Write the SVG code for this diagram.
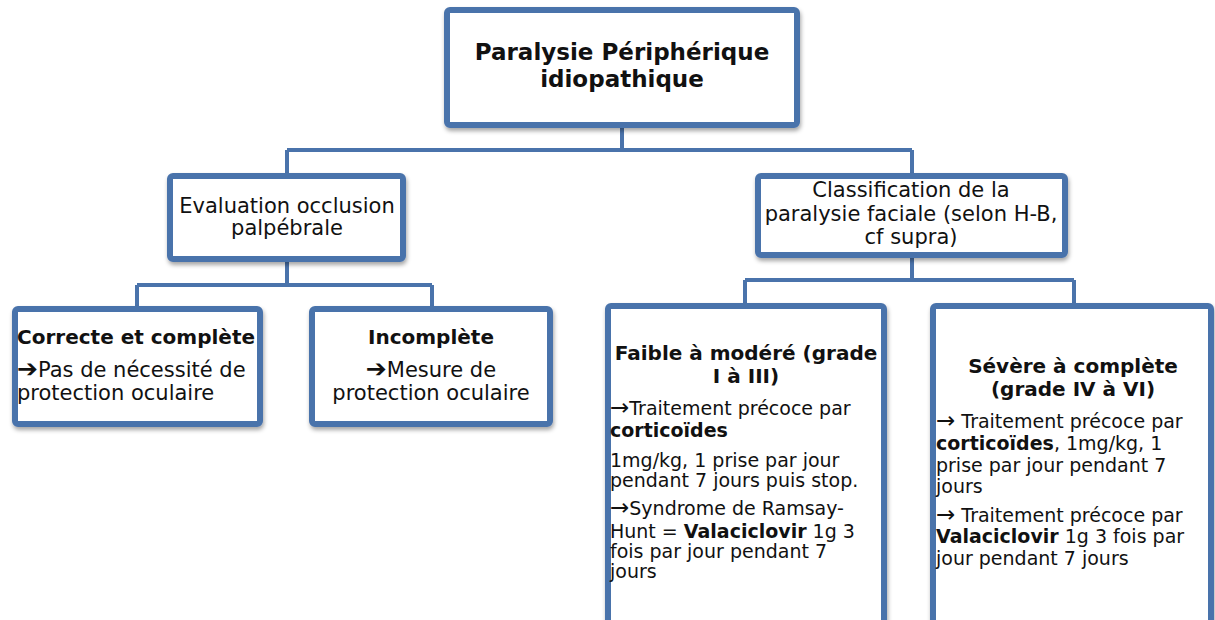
<svg xmlns="http://www.w3.org/2000/svg" width="1215" height="620" viewBox="0 0 1215 620">
<defs>
<filter id="sh" x="-10%" y="-10%" width="120%" height="130%">
<feDropShadow dx="1" dy="3" stdDeviation="2" flood-color="#000" flood-opacity="0.35"/>
</filter>
</defs>
<style>
.box{fill:#fff;stroke:#4a73ab;stroke-width:6;filter:url(#sh)}
.con{fill:none;stroke:#4a73ab;stroke-width:4}
text{font-family:"DejaVu Sans",Verdana,sans-serif;fill:#111}
.t{font-size:23px;font-weight:bold;text-anchor:middle}
.m{font-size:21px;text-anchor:middle}
.h{font-size:20px;font-weight:bold}
.hc{font-size:20px;font-weight:bold;text-anchor:middle}
.b{font-size:21px}
.bc{font-size:21px;text-anchor:middle}
.s{font-size:19px}
.hs{font-size:19px;font-weight:bold}
.bold{font-weight:bold}
.ha{font-size:25px}
.ar{font-size:23px}
</style>
<rect width="1215" height="620" fill="#fff"/>
<g id="connectors" class="con">
<path d="M622 127V150M287 150H912M287 150V176M912 150V176"/>
<path d="M287 261V285M137 285H432M137 285V309M432 285V309"/>
<path d="M912 257V280M745 280H1074M745 280V306M1074 280V306"/>
</g>
<g id="n_root">
<rect class="box" x="447" y="10" width="350" height="115" rx="3"/>
<text class="t" x="622" y="60">Paralysie Périphérique</text>
<text class="t" x="622" y="87">idiopathique</text>
</g>
<g id="n_eval">
<rect class="box" x="170" y="176" width="233" height="83" rx="3"/>
<text class="m" x="287" y="213">Evaluation occlusion</text>
<text class="m" x="287" y="235">palpébrale</text>
</g>
<g id="n_class">
<rect class="box" x="758" y="176" width="307" height="79" rx="3"/>
<text class="m" x="911" y="197">Classification de la</text>
<text class="m" x="911" y="221">paralysie faciale (selon H-B,</text>
<text class="m" x="911" y="244">cf supra)</text>
</g>
<g id="n_correcte">
<rect class="box" x="15" y="309" width="245" height="115" rx="3"/>
<text class="h" x="17" y="344">Correcte et complète</text>
<text class="b" x="17" y="377"><tspan class="ha">➔</tspan>Pas de nécessité de</text>
<text class="b" x="17" y="400">protection oculaire</text>
</g>
<g id="n_incomplete">
<rect class="box" x="312" y="309" width="238" height="115" rx="3"/>
<text class="hc" x="431" y="344">Incomplète</text>
<text class="bc" x="431" y="377"><tspan class="ha">➔</tspan>Mesure de</text>
<text class="bc" x="431" y="400">protection oculaire</text>
</g>
<g id="n_faible">
<rect class="box" x="608" y="306" width="276" height="330" rx="3"/>
<text class="hc" x="746" y="360">Faible à modéré (grade</text>
<text class="hc" x="746" y="383">I à III)</text>
<text class="s" x="610" y="415"><tspan class="ar">→</tspan>Traitement précoce par</text>
<text class="hs" x="610" y="437">corticoïdes</text>
<text class="s" x="610" y="467">1mg/kg, 1 prise par jour</text>
<text class="s" x="610" y="487">pendant 7 jours puis stop.</text>
<text class="s" x="610" y="515"><tspan class="ar">→</tspan>Syndrome de Ramsay-</text>
<text class="s" x="610" y="538">Hunt = <tspan class="bold">Valaciclovir</tspan> 1g 3</text>
<text class="s" x="610" y="558">fois par jour pendant 7</text>
<text class="s" x="610" y="578">jours</text>
</g>
<g id="n_severe">
<rect class="box" x="933" y="306" width="278" height="330" rx="3"/>
<text class="hc" x="1073" y="373">Sévère à complète</text>
<text class="hc" x="1073" y="396">(grade IV à VI)</text>
<text class="s" x="936" y="428"><tspan class="ar">→</tspan> Traitement précoce par</text>
<text class="s" x="936" y="450"><tspan class="bold">corticoïdes</tspan>, 1mg/kg, 1</text>
<text class="s" x="936" y="472">prise par jour pendant 7</text>
<text class="s" x="936" y="493">jours</text>
<text class="s" x="936" y="522"><tspan class="ar">→</tspan> Traitement précoce par</text>
<text class="s" x="936" y="543"><tspan class="bold">Valaciclovir</tspan> 1g 3 fois par</text>
<text class="s" x="936" y="565">jour pendant 7 jours</text>
</g>
</svg>
